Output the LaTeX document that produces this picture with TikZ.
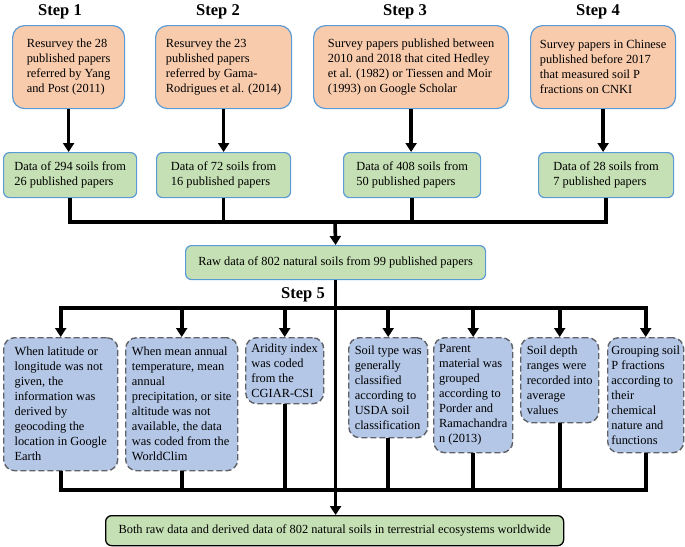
\documentclass[tikz,border=0pt]{standalone}
\usepackage{fontspec}
\setmainfont{Liberation Serif}
\usetikzlibrary{arrows.meta}

\definecolor{srcfill}{HTML}{F8CBAD}
\definecolor{datafill}{HTML}{C5E0B4}
\definecolor{rulefill}{HTML}{B4C7E7}
\definecolor{edgeblue}{HTML}{5B9BD5}
\definecolor{dashgray}{HTML}{5F6268}

\tikzset{
  box/.style={anchor=north west, align=left, inner sep=3pt,
    font=\fontsize{12.4}{15}\selectfont},
  srcbox/.style={box, rounded corners=12pt, fill=srcfill, draw=edgeblue, line width=1.2pt},
  databox/.style={box, rounded corners=6pt, fill=datafill, draw=edgeblue, line width=1.2pt},
  rulebox/.style={box, rounded corners=11pt, fill=rulefill, draw=dashgray,
    line width=1.4pt, dash pattern=on 6pt off 3pt},
  finalbox/.style={box, rounded corners=6pt, fill=datafill, draw=black, line width=1.3pt},
  steplabel/.style={font=\fontsize{16.5}{19}\selectfont\bfseries, inner sep=0pt},
  link/.style={line width=3.6pt},
  linkarrow/.style={link, -{Triangle[width=11pt,length=9pt]}},
}

\begin{document}
\begin{tikzpicture}[x=1pt, y=-1pt]
  \useasboundingbox (0,0) rectangle (685,546);

  \node[steplabel] (step1) at (60,12) {Step 1};
  \node[steplabel] (step2) at (218,12) {Step 2};
  \node[steplabel] (step3) at (405,12) {Step 3};
  \node[steplabel] (step4) at (598,12) {Step 4};
  \node[steplabel] (step5) at (303,295) {Step 5};

  \node[srcbox, minimum width=112pt, minimum height=83pt] (src1) at (12,25)
    {Resurvey the 28\\published papers\\referred by Yang\\and Post (2011)};
  \node[srcbox, minimum width=136pt, minimum height=83pt] (src2) at (155,25)
    {Resurvey the 23\\published papers\\referred by Gama-\\Rodrigues et al. (2014)};
  \node[srcbox, minimum width=195pt, minimum height=83pt] (src3) at (313,25)
    {Survey papers published between\\2010 and 2018 that cited Hedley\\et al. (1982) or Tiessen and Moir\\(1993) on Google Scholar};
  \node[srcbox, minimum width=145pt, minimum height=83pt] (src4) at (530,25)
    {Survey papers in Chinese\\published before 2017\\that measured soil P\\fractions on CNKI};

  \node[databox, minimum width=133pt, minimum height=45pt] (data1) at (3,152)
    {Data of 294 soils from\\26 published papers};
  \node[databox, minimum width=134pt, minimum height=45pt] (data2) at (156,152)
    {Data of 72 soils from\\16 published papers};
  \node[databox, minimum width=137pt, minimum height=45pt] (data3) at (343,152)
    {Data of 408 soils from\\50 published papers};
  \node[databox, minimum width=135pt, minimum height=45pt] (data4) at (538,152)
    {Data of 28 soils from\\7 published papers};

  \node[databox, minimum width=300pt, minimum height=34pt] (raw) at (185,245)
    {Raw data of 802 natural soils from 99 published papers};

  \node[rulebox, minimum width=114pt, minimum height=133pt] (rule1) at (3,337)
    {When latitude or\\longitude was not\\given, the\\information was\\derived by\\geocoding the\\location in Google\\Earth};
  \node[rulebox, minimum width=112pt, minimum height=133pt] (rule2) at (125,337)
    {When mean annual\\temperature, mean\\annual\\precipitation, or site\\altitude was not\\available, the data\\was coded from the\\WorldClim};
  \node[rulebox, minimum width=78pt, minimum height=66pt] (rule3) at (245,337)
    {Aridity index\\was coded\\from the\\CGIAR-CSI};
  \node[rulebox, minimum width=79pt, minimum height=100pt] (rule4) at (348,337)
    {Soil type was\\generally\\classified\\according to\\USDA soil\\classification};
  \node[rulebox, minimum width=79pt, minimum height=115pt] (rule5) at (433,337)
    {Parent\\material was\\grouped\\according to\\Porder and\\Ramachandra\\n (2013)};
  \node[rulebox, minimum width=78pt, minimum height=85pt] (rule6) at (520,337)
    {Soil depth\\ranges were\\recorded into\\average\\values};
  \node[rulebox, minimum width=76pt, minimum height=115pt] (rule7) at (607,337)
    {Grouping soil\\P fractions\\according to\\their\\chemical\\nature and\\functions};

  \node[finalbox, minimum width=458pt, minimum height=30pt] (final) at (105,515)
    {Both raw data and derived data of 802 natural soils in terrestrial ecosystems worldwide};

  \coordinate (join) at (335,222);
  \coordinate (split) at (335,308);
  \coordinate (gather) at (335,490);

  % steps 1-4
  \foreach \i in {1,...,4}
    \draw[linkarrow] (src\i.south) -- (src\i.south |- data\i.north);
  \draw[link] (data1.south) |- (data4.south |- join) -- (data4.south);
  \foreach \i in {2,3}
    \draw[link] (data\i.south) -- (data\i.south |- join);
  \draw[linkarrow] (join) -- (raw.north);

  % step 5
  \draw[link, line cap=rect] (rule1.north |- split) -- (rule7.north |- split);
  \foreach \i in {1,...,7}
    \draw[linkarrow] (rule\i.north |- split) -- (rule\i.north);
  \draw[link] (rule1.south) |- (rule7.south |- gather) -- (rule7.south);
  \foreach \i in {2,...,6}
    \draw[link] (rule\i.south) -- (rule\i.south |- gather);
  \draw[linkarrow] (raw.south) -- (raw.south |- final.north);
\end{tikzpicture}
\end{document}
